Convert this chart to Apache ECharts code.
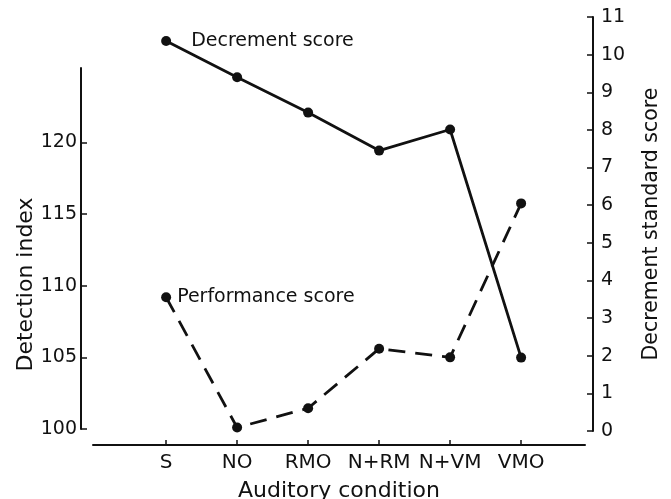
<!DOCTYPE html>
<html>
<head>
<meta charset="utf-8">
<script src="https://cdn.jsdelivr.net/npm/echarts@6/dist/echarts.min.js"></script>
<style>
  html, body { margin: 0; padding: 0; background: #fff; }
  #chart { width: 671px; height: 499px; }
</style>
</head>
<body>
<div id="chart"></div>
<script>
  // data
  var conditions = ['S', 'NO', 'RMO', 'N+RM', 'N+VM', 'VMO'];
  var decrementScore = [10.36, 9.40, 8.46, 7.45, 8.01, 1.95];      // right axis
  var performanceScore = [109.2, 100.1, 101.45, 105.6, 105.0, 115.75]; // left axis
  var leftTicks = [100, 105, 110, 115, 120];

  var font = 'DejaVu Sans';
  var black = '#111';

  function pairs(arr) {
    return arr.map(function (v, i) { return [i, v]; });
  }

  var chart = echarts.init(document.getElementById('chart'));
  chart.setOption({
    animation: false,
    textStyle: { fontFamily: font, color: black },
    grid: [
      { left: 93, right: 86, top: 68, bottom: 70, outerBoundsMode: 'none' },   // detection index
      { left: 93, right: 86, top: 17, bottom: 68, outerBoundsMode: 'none' }    // decrement score
    ],
    xAxis: [
      {
        type: 'value', gridIndex: 0, min: -1.03, max: 5.9, offset: 16,
        name: 'Auditory condition', nameLocation: 'middle', nameGap: 35,
        nameTextStyle: { fontSize: 22, color: black, fontFamily: font },
        splitLine: { show: false },
        axisLine: { onZero: false, lineStyle: { color: black, width: 2 } },
        axisTick: { inside: true, length: 5, customValues: [0, 1, 2, 3, 4, 5], lineStyle: { color: black, width: 1.5 } },
        axisLabel: {
          customValues: [0, 1, 2, 3, 4, 5], fontSize: 20, color: black, margin: 8,
          formatter: function (v) { return conditions[Math.round(v)]; }
        }
      },
      {
        type: 'value', gridIndex: 1, min: -1.03, max: 5.9, show: false,
        splitLine: { show: false }
      }
    ],
    yAxis: [
      {
        type: 'value', gridIndex: 0, position: 'left', min: 100, max: 125.2, offset: 12,
        name: 'Detection index', nameLocation: 'middle', nameGap: 44, nameRotate: 90,
        nameMoveOverlap: false,
        nameTextStyle: { fontSize: 22, color: black, fontFamily: font, padding: [0, 72, 0, 0] },
        splitLine: { show: false },
        axisLine: { show: true, onZero: false, lineStyle: { color: black, width: 2 } },
        axisTick: { inside: true, length: 6, customValues: leftTicks, lineStyle: { color: black, width: 1.5 } },
        axisLabel: { customValues: leftTicks, fontSize: 19, color: black, margin: 4 }
      },
      {
        type: 'value', gridIndex: 1, position: 'right', min: 0, max: 11, interval: 1, offset: 8,
        name: 'Decrement standard score', nameLocation: 'middle', nameGap: 48, nameRotate: 90,
        nameTextStyle: { fontSize: 20.5, color: black, fontFamily: font },
        splitLine: { show: false },
        axisLine: { show: true, onZero: false, lineStyle: { color: black, width: 2 } },
        axisTick: { inside: true, length: 6, lineStyle: { color: black, width: 1.5 } },
        axisLabel: { fontSize: 19, color: black, margin: 8 }
      }
    ],
    series: [
      {
        name: 'Decrement score', type: 'line', xAxisIndex: 1, yAxisIndex: 1,
        data: pairs(decrementScore),
        symbol: 'circle', symbolSize: 10,
        itemStyle: { color: black },
        lineStyle: { color: black, width: 2.8 },
        label: {
          show: true, position: 'right', distance: 20, fontSize: 19, color: black,
          formatter: function (p) { return p.dataIndex === 0 ? p.seriesName : ''; }
        }
      },
      {
        name: 'Performance score', type: 'line', xAxisIndex: 0, yAxisIndex: 0,
        data: pairs(performanceScore),
        symbol: 'circle', symbolSize: 10,
        itemStyle: { color: black },
        lineStyle: { color: black, width: 2.8, type: [17, 10] },
        label: {
          show: true, position: 'right', distance: 6, fontSize: 19, color: black,
          formatter: function (p) { return p.dataIndex === 0 ? p.seriesName : ''; }
        }
      }
    ]
  });
</script>
</body>
</html>
